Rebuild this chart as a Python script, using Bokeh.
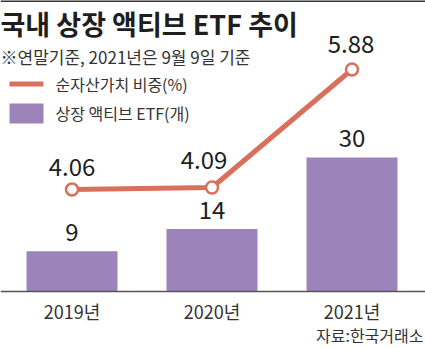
from bokeh.plotting import figure
from bokeh.models import Range1d, ColumnDataSource
from bokeh.core.properties import value
from bokeh.embed import file_html
from bokeh.resources import INLINE

# ---- data ----
years = ["2019년", "2020년", "2021년"]
etf_counts = [9, 14, 30]
nav_share = [4.06, 4.09, 5.88]
nav_labels = ["4.06", "4.09", "5.88"]
count_labels = ["9", "14", "30"]

title = "국내 상장 액티브 ETF 추이"
subtitle = "※연말기준, 2021년은 9월 9일 기준"
legend_line = "순자산가치 비중(%)"
legend_bar = "상장 액티브 ETF(개)"
source_txt = "자료:한국거래소"

W, H = 425, 348
FONT = "Noto Sans CJK KR"
LINE_C = "#d9705c"
BAR_C = "#9c84ba"
TXT_C = "#1e1e1e"

# layout helpers (pixel -> data), layout only
PX_X = 140.0
X0 = -71.5 / PX_X
BASE_PX = 291.0
PX_BAR = 4.47
def dx(px):
    return X0 + px / PX_X
def dy(py):
    return (BASE_PX - py) / PX_BAR

p = figure(width=W, height=H, output_backend="svg", toolbar_location=None,
           x_range=Range1d(X0, X0 + W / PX_X),
           y_range=Range1d(dy(H), dy(0)),
           min_border=0, outline_line_color=None)
p.xaxis.visible = False
p.yaxis.visible = False
p.grid.visible = False
p.background_fill_color = "white"
p.border_fill_color = "white"

# secondary range for the line (%)
PX_LINE = 65.93
L_REF_PX = 189.0
L_REF_V = 4.06
p.extra_y_ranges = {"pct": Range1d(L_REF_V - (H - L_REF_PX) / PX_LINE,
                                   L_REF_V + L_REF_PX / PX_LINE)}

xs = list(range(len(years)))
src = ColumnDataSource(dict(x=xs, year=years, cnt=etf_counts, nav=nav_share,
                            navl=nav_labels, cntl=count_labels))
# label nudges (layout only)
lab_src = ColumnDataSource(dict(x=xs, nav=nav_share, navl=nav_labels,
                                xo=[0, -8, -1], yo=[-23, -28, -26]))

# top border
p.segment(x0=[dx(0)], y0=[dy(0.5)], x1=[dx(W)], y1=[dy(0.5)],
          line_color="#333333", line_width=2)

# bars
p.vbar(x="x", top="cnt", bottom=0, width=91 / PX_X, source=src,
       fill_color=BAR_C, line_color=None)
# baseline
p.segment(x0=[dx(0)], y0=[0], x1=[dx(W)], y1=[0], line_color="#555555", line_width=1.5)

# bar value labels
p.text(x="x", y="cnt", text="cntl", source=src, y_offset=-19,
       text_align="center", text_baseline="middle",
       text_font=value(FONT), text_font_size="24px", text_color=TXT_C)

# line
p.line(x="x", y="nav", source=src, y_range_name="pct",
       line_color=LINE_C, line_width=5)
p.scatter(x="x", y="nav", source=src, y_range_name="pct", size=12,
          fill_color="white", line_color=LINE_C, line_width=2.5)
p.text(x="x", y="nav", text="navl", source=lab_src, y_range_name="pct",
       x_offset="xo", y_offset="yo",
       text_align="center", text_baseline="middle",
       text_font=value(FONT), text_font_size="24px", text_color=TXT_C)

# x labels
p.text(x="x", y=0, text="year", source=src, y_offset=19,
       text_align="center", text_baseline="middle",
       text_font=value(FONT), text_font_size="18px", text_color="#333333")

# title & subtitle
p.text(x=[dx(0)], y=[dy(23)], text=[title], text_align="left", text_baseline="middle",
       text_font=value(FONT), text_font_size="27px", text_font_style="bold",
       text_color=TXT_C)
p.text(x=[dx(0)], y=[dy(56)], text=[subtitle], text_align="left", text_baseline="middle",
       text_font=value(FONT), text_font_size="17px", text_color="#333333")

# legend
p.segment(x0=[dx(9)], y0=[dy(83.5)], x1=[dx(43)], y1=[dy(83.5)],
          line_color=LINE_C, line_width=5)
p.quad(left=[dx(9)], right=[dx(43)], top=[dy(103)], bottom=[dy(123)],
       fill_color=BAR_C, line_color=None)
p.text(x=[dx(55)], y=[dy(83)], text=[legend_line], text_align="left", text_baseline="middle",
       text_font=value(FONT), text_font_size="16px", text_color="#333333")
p.text(x=[dx(55)], y=[dy(112)], text=[legend_bar], text_align="left", text_baseline="middle",
       text_font=value(FONT), text_font_size="16px", text_color="#333333")

# source
p.text(x=[dx(423)], y=[dy(334)], text=[source_txt], text_align="right", text_baseline="middle",
       text_font=value(FONT), text_font_size="16px", text_color="#333333")

open("out.html", "w").write(file_html(p, INLINE))
